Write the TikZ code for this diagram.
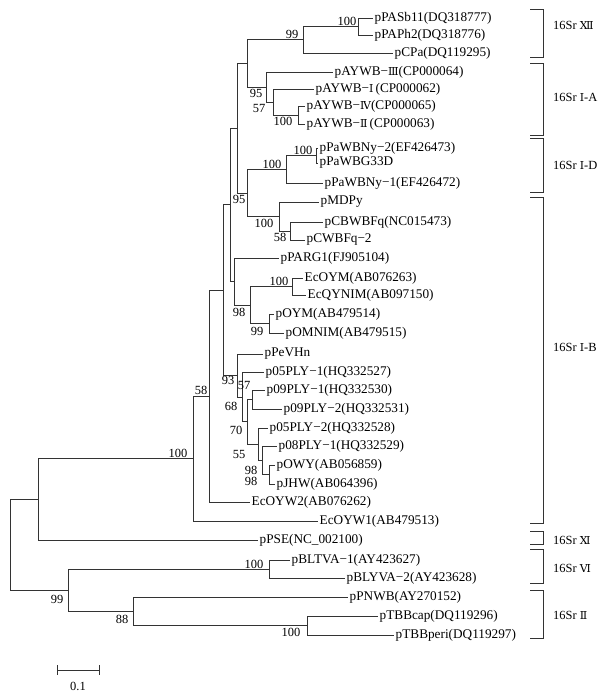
\documentclass[tikz,border=0pt]{standalone}
\usepackage{fontspec}
\setmainfont{Liberation Serif}
\newfontfamily\romfont{DejaVu Serif}
\usetikzlibrary{calc}

\newcommand{\rn}[1]{{\romfont\fontsize{11}{12}\selectfont #1}}

\tikzset{
  br/.style={draw=black!80, line width=0.7bp},
  leaf/.style={anchor=west, inner sep=1.5bp, font=\fontsize{13.3}{15}\selectfont},
  boot/.style={inner sep=0.5bp, font=\fontsize{12.5}{14}\selectfont},
  grp/.style={anchor=west, inner sep=0bp, font=\fontsize{12.5}{14}\selectfont},
}

\begin{document}
\begin{tikzpicture}[x=1bp, y=-1bp]
\useasboundingbox (0,0) rectangle (613,695);

\node[leaf] (PASb11) at (373,18) {pPASb11(DQ318777)};
\node[leaf] (PAPh2) at (373,35) {pPAPh2(DQ318776)};
\node[leaf] (CPa) at (393,53) {pCPa(DQ119295)};
\node[leaf] (AYWB3) at (333,72) {pAYWB−\rn{Ⅲ}(CP000064)};
\node[leaf] (AYWB1) at (314,89) {pAYWB−\rn{Ⅰ}\,(CP000062)};
\node[leaf] (AYWB4) at (305,106) {pAYWB−\rn{Ⅳ}(CP000065)};
\node[leaf] (AYWB2) at (305,124) {pAYWB−\rn{Ⅱ}\,(CP000063)};
\node[leaf] (PaWBNy2) at (318,148) {pPaWBNy−2(EF426473)};
\node[leaf] (PaWBG33D) at (318,163) {pPaWBG33D};
\node[leaf] (PaWBNy1) at (323,183) {pPaWBNy−1(EF426472)};
\node[leaf] (MDPy) at (319,202) {pMDPy};
\node[leaf] (CBWBFq) at (323,222) {pCBWBFq(NC015473)};
\node[leaf] (CWBFq2) at (305,240) {pCWBFq−2};
\node[leaf] (PARG1) at (279,258) {pPARG1(FJ905104)};
\node[leaf] (EcOYM) at (303,278) {EcOYM(AB076263)};
\node[leaf] (EcQYNIM) at (306,295) {EcQYNIM(AB097150)};
\node[leaf] (OYM) at (274,314) {pOYM(AB479514)};
\node[leaf] (OMNIM) at (284,333) {pOMNIM(AB479515)};
\node[leaf] (PeVHn) at (263,354) {pPeVHn};
\node[leaf] (P05PLY1) at (264,372) {p05PLY−1(HQ332527)};
\node[leaf] (P09PLY1) at (265,390) {p09PLY−1(HQ332530)};
\node[leaf] (P09PLY2) at (282,409) {p09PLY−2(HQ332531)};
\node[leaf] (P05PLY2) at (268,428) {p05PLY−2(HQ332528)};
\node[leaf] (P08PLY1) at (277,446) {p08PLY−1(HQ332529)};
\node[leaf] (OWY) at (275,465) {pOWY(AB056859)};
\node[leaf] (JHW) at (275,484) {pJHW(AB064396)};
\node[leaf] (EcOYW2) at (250,502) {EcOYW2(AB076262)};
\node[leaf] (EcOYW1) at (318,521) {EcOYW1(AB479513)};
\node[leaf] (PSE) at (258,540) {pPSE(NC\_002100)};
\node[leaf] (BLTVA1) at (290,560) {pBLTVA−1(AY423627)};
\node[leaf] (BLYVA2) at (345,578) {pBLYVA−2(AY423628)};
\node[leaf] (PNWB) at (348,597) {pPNWB(AY270152)};
\node[leaf] (TBBcap) at (378,616) {pTBBcap(DQ119296)};
\node[leaf] (TBBperi) at (394,635) {pTBBperi(DQ119297)};

\coordinate (root) at (10,544.7);
\coordinate (a1) at (38,499.3);
\coordinate (nA) at (193,458.5);
\coordinate (nB) at (209,396);
\coordinate (nC) at (223,290.1);
\coordinate (nL) at (230,204.8);
\coordinate (nV) at (237,128.1);
\coordinate (nU) at (247,63.4);
\coordinate (nP) at (303,39.7);
\coordinate (nQ) at (358,26.5);
\coordinate (nT) at (266,87);
\coordinate (nR) at (273,102);
\coordinate (nS) at (298,115);
\coordinate (nAA) at (247,192.9);
\coordinate (nW) at (286,169.2);
\coordinate (nX) at (316,155.5);
\coordinate (nY) at (279,216.5);
\coordinate (nZ) at (290,231);
\coordinate (nM) at (234,281.5);
\coordinate (nN) at (250,305);
\coordinate (nO1) at (292,286.5);
\coordinate (nO2) at (269,323.5);
\coordinate (nD) at (237,375.5);
\coordinate (nE) at (242,396.9);
\coordinate (nF) at (247,421.8);
\coordinate (nG) at (252,399.5);
\coordinate (nH) at (258,444.1);
\coordinate (nJ) at (262,460.2);
\coordinate (nK) at (269,474.5);
\coordinate (b1) at (68,590.1);
\coordinate (nBL) at (269,569);
\coordinate (n88) at (133,611.2);
\coordinate (nTBB) at (307,625.5);

\draw[br] (root) |- (a1);
\draw[br] (root) |- (b1);
\draw[br] (a1) |- (nA);
\draw[br] (a1) |- (PSE.west);
\draw[br] (nA) |- (nB);
\draw[br] (nA) |- (EcOYW1.west);
\draw[br] (nB) |- (nC);
\draw[br] (nB) |- (EcOYW2.west);
\draw[br] (nC) |- (nL);
\draw[br] (nC) |- (nD);
\draw[br] (nL) |- (nV);
\draw[br] (nL) |- (nM);
\draw[br] (nV) |- (nU);
\draw[br] (nV) |- (nAA);
\draw[br] (nU) |- (nP);
\draw[br] (nU) |- (nT);
\draw[br] (nP) |- (nQ);
\draw[br] (nP) |- (CPa.west);
\draw[br] (nQ) |- (PASb11.west);
\draw[br] (nQ) |- (PAPh2.west);
\draw[br] (nT) |- (AYWB3.west);
\draw[br] (nT) |- (nR);
\draw[br] (nR) |- (AYWB1.west);
\draw[br] (nR) |- (nS);
\draw[br] (nS) |- (AYWB4.west);
\draw[br] (nS) |- (AYWB2.west);
\draw[br] (nAA) |- (nW);
\draw[br] (nAA) |- (nY);
\draw[br] (nW) |- (nX);
\draw[br] (nW) |- (PaWBNy1.west);
\draw[br] (nX) |- (PaWBNy2.west);
\draw[br] (nX) |- (PaWBG33D.west);
\draw[br] (nY) |- (MDPy.west);
\draw[br] (nY) |- (nZ);
\draw[br] (nZ) |- (CBWBFq.west);
\draw[br] (nZ) |- (CWBFq2.west);
\draw[br] (nM) |- (PARG1.west);
\draw[br] (nM) |- (nN);
\draw[br] (nN) |- (nO1);
\draw[br] (nN) |- (nO2);
\draw[br] (nO1) |- (EcOYM.west);
\draw[br] (nO1) |- (EcQYNIM.west);
\draw[br] (nO2) |- (OYM.west);
\draw[br] (nO2) |- (OMNIM.west);
\draw[br] (nD) |- (PeVHn.west);
\draw[br] (nD) |- (nE);
\draw[br] (nE) |- (P05PLY1.west);
\draw[br] (nE) |- (nF);
\draw[br] (nF) |- (nG);
\draw[br] (nF) |- (nH);
\draw[br] (nG) |- (P09PLY1.west);
\draw[br] (nG) |- (P09PLY2.west);
\draw[br] (nH) |- (P05PLY2.west);
\draw[br] (nH) |- (nJ);
\draw[br] (nJ) |- (P08PLY1.west);
\draw[br] (nJ) |- (nK);
\draw[br] (nK) |- (OWY.west);
\draw[br] (nK) |- (JHW.west);
\draw[br] (b1) |- (nBL);
\draw[br] (b1) |- (n88);
\draw[br] (nBL) |- (BLTVA1.west);
\draw[br] (nBL) |- (BLYVA2.west);
\draw[br] (n88) |- (PNWB.west);
\draw[br] (n88) |- (nTBB);
\draw[br] (nTBB) |- (TBBcap.west);
\draw[br] (nTBB) |- (TBBperi.west);

\node[boot, anchor=south east] (bQ) at (357,26) {100};
\node[boot, anchor=south east] (bP) at (299,39) {99};
\node[boot, anchor=north east] (bT) at (263,89) {95};
\node[boot, anchor=north east] (bR) at (266,104) {57};
\node[boot, anchor=north east] (bS) at (293,117) {100};
\node[boot, anchor=south east] (bX) at (313,155) {100};
\node[boot, anchor=south east] (bW) at (282,169) {100};
\node[boot, anchor=north east] (bAA) at (246,195) {95};
\node[boot, anchor=north east] (bY) at (274,219) {100};
\node[boot, anchor=north east] (bZ) at (287,233) {58};
\node[boot, anchor=south east] (bO1) at (289,286) {100};
\node[boot, anchor=north east] (bN) at (246,308) {98};
\node[boot, anchor=north east] (bO2) at (264,327) {99};
\node[boot, anchor=north east] (bD) at (235,376) {93};
\node[boot, anchor=south east] (bG) at (251,390) {57};
\node[boot, anchor=north east] (bE) at (238,402) {68};
\node[boot, anchor=north east] (bF) at (243,426) {70};
\node[boot, anchor=north east] (bH) at (246,450) {55};
\node[boot, anchor=north east] (bJ) at (258,466) {98};
\node[boot, anchor=north east] (bK) at (258,477) {98};
\node[boot, anchor=south east] (bB) at (208,395) {58};
\node[boot, anchor=south east] (bA) at (188,458) {100};
\node[boot, anchor=north east] (b1lab) at (64,595) {99};
\node[boot, anchor=south east] (bBL) at (264,569) {100};
\node[boot, anchor=north east] (b88) at (129,615) {88};
\node[boot, anchor=north east] (bTBB) at (301,628) {100};

\draw[br] (57,665) -- (57,675) (57,670) -- (99,670) (99,665) -- (99,675);
\node[boot] (scale) at (78,686) {0.1};

\draw[br] (530,9) -- (543,9) -- (543,57) -- (530,57);
\draw[br] (530,63) -- (543,63) -- (543,135) -- (530,135);
\draw[br] (530,138) -- (543,138) -- (543,192) -- (530,192);
\draw[br] (530,197) -- (543,197) -- (543,523) -- (530,523);
\draw[br] (530,531) -- (543,531) -- (543,544) -- (530,544);
\draw[br] (530,549) -- (543,549) -- (543,583) -- (530,583);
\draw[br] (530,590) -- (543,590) -- (543,638) -- (530,638);
\node[grp] (g12) at (553,25) {16Sr \rn{Ⅻ}};
\node[grp] (g1A) at (553,97) {16Sr \rn{Ⅰ}-A};
\node[grp] (g1D) at (553,165) {16Sr \rn{Ⅰ}-D};
\node[grp] (g1B) at (553,347) {16Sr \rn{Ⅰ}-B};
\node[grp] (g11) at (553,540) {16Sr \rn{Ⅺ}};
\node[grp] (g6) at (553,568) {16Sr \rn{Ⅵ}};
\node[grp] (g2) at (553,615) {16Sr \rn{Ⅱ}};
\end{tikzpicture}
\end{document}
